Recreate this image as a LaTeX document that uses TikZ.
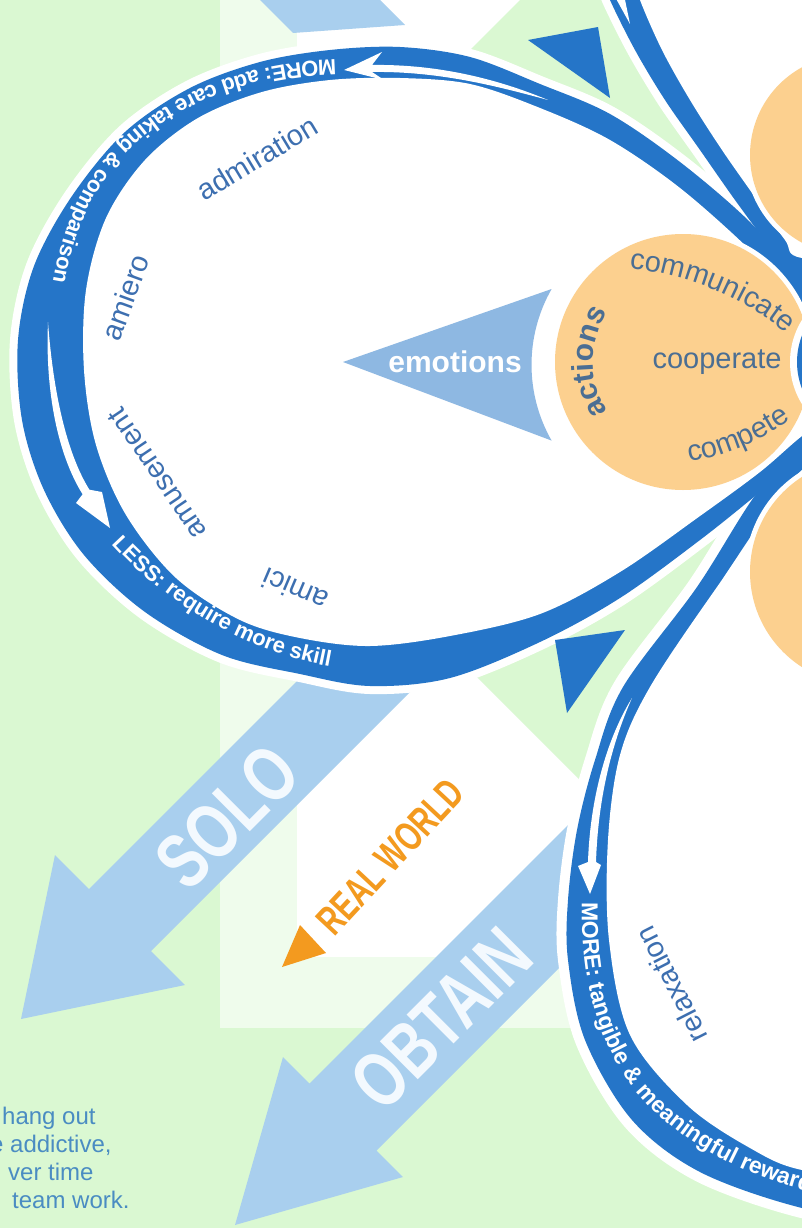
\documentclass[tikz,border=0pt]{standalone}
\usepackage{fontspec}
\setmainfont{Liberation Sans}
\usetikzlibrary{decorations.text}

\definecolor{bggreen}{HTML}{DAF8D2}
\definecolor{palegreen}{HTML}{EFFCEC}
\definecolor{bandblue}{HTML}{2575C8}
\definecolor{skyblue}{HTML}{A9CFEE}
\definecolor{emoblue}{HTML}{8EB8E2}
\definecolor{petalorange}{HTML}{FCD08F}
\definecolor{realorange}{HTML}{F39A1F}
\definecolor{labelblue}{HTML}{3D6FB0}
\definecolor{slate}{HTML}{4B6E93}
\definecolor{noteblue}{HTML}{4A8CC2}
\definecolor{arrowtext}{HTML}{F3F9FE}

\newcommand{\fsz}[1]{\fontsize{#1}{#1}\selectfont}

% outlines of the three loops (outer edge of the band, inner edge of the band)
\def\leftOuter{plot[smooth, tension=0.55] coordinates {(850,318) (802,282) (750,222) (680,162) (610,114) (540,84) (470,57) (400,47) (330,50) (260,62) (190,88) (125,132) (72,196) (34,266) (18,340) (22,420) (44,490) (84,555) (145,612) (222,655) (300,674) (370,686) (450,678) (540,642) (620,598) (700,540) (760,492) (802,457) (850,425)} -- cycle}
\def\leftInner{plot[smooth, tension=0.55] coordinates {(840,335) (802,306) (750,250) (680,188) (610,140) (540,108) (470,84) (400,78) (330,80) (262,92) (198,118) (145,160) (106,218) (86,290) (84,370) (96,445) (126,515) (176,578) (240,620) (300,638) (370,646) (450,636) (540,614) (620,572) (700,516) (760,472) (802,436) (840,410)} -- cycle}
\def\upOuter{plot[smooth, tension=0.55] coordinates {(900,300) (802,283) (765,240) (735,200) (700,150) (665,100) (635,50) (610,0) (604,-20)} -- (900,-20) -- cycle}
\def\upInner{plot[smooth, tension=0.55] coordinates {(900,262) (802,258) (785,240) (757,200) (722,150) (690,100) (662,50) (640,0) (636,-20)} -- (900,-20) -- cycle}
\def\brOuter{plot[smooth, tension=0.55] coordinates {(880,400) (802,452) (757,493) (697,587) (623,687) (595,760) (577,830) (568,900) (568,960) (585,1040) (632,1120) (700,1172) (802,1208) (900,1222)} -- cycle}
\def\brInner{plot[smooth, tension=0.55] coordinates {(880,440) (802,470) (717,587) (650,687) (620,755) (608,840) (609,940) (630,1035) (687,1105) (750,1148) (802,1170) (900,1180)} -- cycle}

\tikzset{
  loophalo/.style={draw=white, line width=#1, line join=round},
  loopword/.style={text=labelblue, font=\fsz{29}, inner sep=0pt},
  petalword/.style={text=slate, font=\fsz{29}, inner sep=0pt},
  arrowword/.style={text=arrowtext, font=\bfseries\fsz{78}, inner sep=0pt},
  noteline/.style={text=noteblue, font=\fsz{24}, anchor=base west, inner sep=0pt},
  bigarrow/.style={fill=skyblue},
  darktri/.style={fill=bandblue},
  whitetip/.style={fill=white}
}

\begin{document}
\begin{tikzpicture}[x=1pt,y=-1pt]
\useasboundingbox (0,0) rectangle (802,1228);
\clip (0,0) rectangle (802,1228);

% ground areas
\fill[bggreen] (0,0) rectangle (802,1228);
\fill[palegreen] (220,-10) rectangle (720,1028);
\fill[white] (297,-10) rectangle (720,957);
\fill[bggreen] (160,360) -- (920,-400) -- (920,1120) -- cycle;

% wide light-blue arrows
\fill[bigarrow] (250,-10) -- (370,-10) -- (405,25) -- (293,33) -- cycle;
\fill[bigarrow] (414,564) -- (476,626) -- (151,951) -- (185,985) -- (21,1019) -- (55,855) -- (89,889) -- cycle;
\fill[bigarrow] (646.5,746.5) -- (713.5,813.5) -- (376.5,1150.5) -- (403,1177) -- (235,1225) -- (283,1057) -- (309.5,1083.5) -- cycle;
\node[arrowword, rotate=45] (solo) at (227,817) {\scalebox{0.74}[1]{SOLO}};
\node[arrowword, rotate=45] (obtain) at (441,1019) {\scalebox{0.74}[1]{OBTAIN}};

% real world
\node[text=realorange, font=\bfseries\fsz{41}, rotate=47, inner sep=0pt] (realworld) at (390,857) {\scalebox{0.7}[1]{REAL WORLD}};
\fill[realorange] (282,967) -- (300,925) -- (326,953) -- cycle;

% loops: halos, bands, interiors
\draw[loophalo=16] \leftOuter;
\draw[loophalo=16] \upOuter;
\draw[loophalo=20] \brOuter;
\fill[bandblue] \leftOuter;
\fill[bandblue] \upOuter;
\fill[bandblue] \brOuter;
\fill[white] \leftInner;
\fill[white] \upInner;
\fill[white] \brInner;

% petals and hub
\fill[white] (683,362) circle[radius=133];
\fill[petalorange] (683,362) circle[radius=128];
\fill[white] (850,155) circle[radius=105];
\fill[petalorange] (850,155) circle[radius=100];
\fill[white] (863,572) circle[radius=118];
\fill[petalorange] (863,572) circle[radius=113];
\fill[white] (870,362) circle[radius=80];
\fill[bandblue] (870,362) circle[radius=73];

% emotions pointer
\fill[emoblue] (343,362) -- (551.6,289) arc[start angle=209.7, end angle=150.3, radius=153] -- cycle;
\node[font=\bfseries\fsz{30}, text=white, inner sep=0pt] (emotions) at (455,362) {emotions};

% words in the actions petal
\node[petalword] (cooperate) at (717,362) {cooperate};
\path[decorate, decoration={text along path, text color=slate, text align=center, text={|\fsz{29}|communicate}}]
  (622,268) .. controls (680,272) and (745,296) .. (792,338);
\path[decorate, decoration={text along path, text color=slate, text align=center, text={|\fsz{29}|compete}}]
  (678,463) .. controls (720,460) and (765,440) .. (800,413);
\path[decorate, decoration={text along path, text color=slate, text align=center, text={|\bfseries\fsz{30}|actions}}]
  (609.3,413.6) arc[start angle=145, end angle=215, radius=90];

% white direction arrows inside the bands
\fill[whitetip] (548,100) .. controls (500,80) and (440,64) .. (372,65) -- (382,52) -- (344,70) -- (384,80) -- (372,72) .. controls (440,71) and (500,87) .. (548,100) -- cycle;
\fill[whitetip] (48,322) .. controls (45,392) and (58,455) .. (82.6,494.3) -- (76,503) -- (110,528) -- (102,492) -- (89.4,489.7) .. controls (66,452) and (53,390) .. (48,322) -- cycle;
\fill[whitetip] (632,698) .. controls (606,740) and (590,800) .. (588,862) -- (578,866) -- (590,894) -- (601,865) -- (596,862) .. controls (598,800) and (611,745) .. (632,698) -- cycle;
\fill[whitetip] (614,-5) -- (624,-5) -- (630,24) -- cycle;

% texts running along the bands
\path[decorate, decoration={text along path, text color=white, text={|\bfseries\fsz{22}|MORE: add care taking {\&} comparison}}]
  (336,60) .. controls (250,62) and (170,92) .. (118,145) .. controls (72,192) and (50,260) .. (48,335);
\path[decorate, decoration={text along path, text color=white, text={|\bfseries\fsz{22}|LESS: require more skill}}]
  (112,544) .. controls (172,610) and (262,660) .. (352,670);
\path[decorate, decoration={text along path, text color=white, text={|\bfseries\fsz{23}|MORE: tangible {\&} meaningful rewards}}]
  (582,902) .. controls (580,985) and (600,1062) .. (660,1116) .. controls (720,1170) and (800,1195) .. (880,1205);

% words inside the loops
\node[loopword, rotate=31] (admiration) at (257,158) {admiration};
\node[loopword, rotate=70] (amiero) at (125,297) {amiero};
\node[loopword, rotate=124] (amusement) at (157,474) {amusement};
\node[loopword, rotate=157] (amici) at (295,590) {amici};
\node[loopword, rotate=117] (relaxation) at (671,985) {relaxation};

% dark pointers between the loops
\fill[darktri] (528,40) -- (598,27) -- (610,98) -- cycle;
\fill[darktri] (555,640) -- (625,630) -- (567,713) -- cycle;

% note lines at the lower left
\node[noteline] (n1) at (2,1124) {hang out};
\node[noteline] (n2) at (-10,1152) {e addictive,};
\node[noteline] (n3) at (8,1180) {ver time};
\node[noteline] (n4) at (12,1208) {team work.};
\end{tikzpicture}
\end{document}
